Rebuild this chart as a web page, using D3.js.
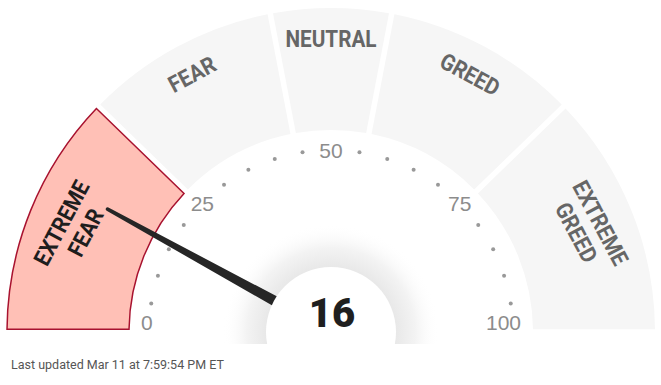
<!DOCTYPE html>
<html>
<head>
<meta charset="utf-8">
<script src="https://cdn.jsdelivr.net/npm/d3@7"></script>
<style>
  html, body { margin: 0; padding: 0; background: #fff; }
  svg { display: block; }
</style>
</head>
<body>
<div id="chart"></div>
<script>
// gauge data
const segmentNames = ['EXTREME FEAR', 'FEAR', 'NEUTRAL', 'GREED', 'EXTREME GREED']
const segmentBounds = [0, 24.5, 44, 56, 75.5, 100]
const tickLabels = [0, 25, 50, 75, 100]
const dotValues = [5, 10, 15, 20, 30, 35, 40, 45, 55, 60, 65, 70, 80, 85, 90, 95]
const score = 16
const updatedText = 'Last updated Mar 11 at 7:59:54 PM ET'

const width = 661, height = 385
const cx = 331, cy = 332
const outerR = 324, innerR = 202

const svg = d3.select('#chart').append('svg')
    .attr('width', width)
    .attr('height', height)

// value -> angle (radians, 0 = straight up, clockwise)
const angle = d3.scaleLinear().domain([0, 100]).range([-Math.PI / 2, Math.PI / 2])
const pt = (v, r) => [cx + r * Math.sin(angle(v)), cy - r * Math.cos(angle(v))]
const deg = v => angle(v) * 180 / Math.PI

const segments = segmentNames.map((name, i) => ({
    name,
    start: segmentBounds[i],
    end: segmentBounds[i + 1],
    active: score >= segmentBounds[i] && score < segmentBounds[i + 1]
}))

const arc = d3.arc()
    .innerRadius(innerR)
    .outerRadius(outerR)
    .padAngle(5.5 / Math.sqrt(innerR * innerR + outerR * outerR))
    .startAngle(d => angle(d.start))
    .endAngle(d => angle(d.end))

const defs = svg.append('defs')
const g = svg.append('g')

g.selectAll('path.seg')
    .data(segments)
    .enter()
    .append('path')
    .attr('class', 'seg')
    .attr('transform', `translate(${cx},${cy})`)
    .attr('d', arc)
    .attr('fill', d => d.active ? '#ffc0b6' : '#f6f6f6')
    .attr('stroke', d => d.active ? '#a8122f' : 'none')
    .attr('stroke-width', 1.5)

// segment labels, one or two lines along the arc
segments.forEach(s => {
    const mid = (s.start + s.end) / 2
    const words = s.name.split(' ')
    let rot = deg(mid)
    rot = Math.sign(rot) * Math.min(Math.abs(rot), 62)
    const radii = words.length > 1 ? [291, 265] : [293]
    words.forEach((w, j) => {
        const [x, y] = pt(mid, radii[j])
        g.append('text')
            .attr('transform', `translate(${x},${y}) rotate(${rot}) scale(0.9,1)`)
            .attr('text-anchor', 'middle')
            .attr('dy', '0.36em')
            .style('font-family', 'Roboto, sans-serif')
            .style('font-weight', 700)
            .style('font-size', '23px')
            .style('fill', s.active ? '#1e1e1e' : '#666')
            .text(w)
    })
})

// dots
g.selectAll('circle.dot')
    .data(dotValues)
    .enter()
    .append('circle')
    .attr('class', 'dot')
    .attr('cx', d => pt(d, 182)[0])
    .attr('cy', d => pt(d, 182)[1])
    .attr('r', 2)
    .attr('fill', '#999')

// scale labels
tickLabels.forEach((t, i) => {
    const last = tickLabels.length - 1
    const ends = i === 0 || i === last
    const [x, y] = ends ? pt(t, 190) : pt(t, 182)
    g.append('text')
        .attr('x', x)
        .attr('y', ends ? y - 2 : y)
        .attr('dy', ends ? 0 : '0.36em')
        .attr('text-anchor', i === 0 ? 'start' : i === last ? 'end' : 'middle')
        .style('font-family', '"Liberation Sans", Arial, sans-serif')
        .style('font-size', '21px')
        .style('fill', '#8c8c8c')
        .text(t)
})

// soft glow around the hub, cut just below the baseline
const grad = defs.append('radialGradient').attr('id', 'glow')
grad.append('stop').attr('offset', '0%').attr('stop-color', '#e8e8e8')
grad.append('stop').attr('offset', '60%').attr('stop-color', '#e8e8e8')
grad.append('stop').attr('offset', '78%').attr('stop-color', '#f3f3f3')
grad.append('stop').attr('offset', '100%').attr('stop-color', '#fff').attr('stop-opacity', 0)

defs.append('clipPath').attr('id', 'glowClip')
    .append('rect')
    .attr('x', 0).attr('y', 0)
    .attr('width', width).attr('height', cy + 12)

g.append('circle')
    .attr('cx', cx)
    .attr('cy', cy)
    .attr('r', 108)
    .attr('fill', 'url(#glow)')
    .attr('clip-path', 'url(#glowClip)')

// needle
const needleLen = 255
g.append('path')
    .attr('transform', `translate(${cx},${cy}) rotate(${deg(score)})`)
    .attr('d', `M -6.2 0 L -1.8 ${-needleLen} A 1.8 1.8 0 0 1 1.8 ${-needleLen} L 6.2 0 Z`)
    .attr('fill', '#262626')

// hub
g.append('circle')
    .attr('cx', cx)
    .attr('cy', cy)
    .attr('r', 65)
    .attr('fill', '#fff')

g.append('text')
    .attr('x', cx + 1)
    .attr('y', 327)
    .attr('text-anchor', 'middle')
    .style('font-family', 'Roboto, sans-serif')
    .style('font-weight', 900)
    .style('font-size', '40px')
    .style('fill', '#1f1f1f')
    .text(score)

svg.append('text')
    .attr('x', 11)
    .attr('y', 369)
    .style('font-family', 'Roboto, sans-serif')
    .style('font-size', '12.5px')
    .style('fill', '#555')
    .text(updatedText)
</script>
</body>
</html>
